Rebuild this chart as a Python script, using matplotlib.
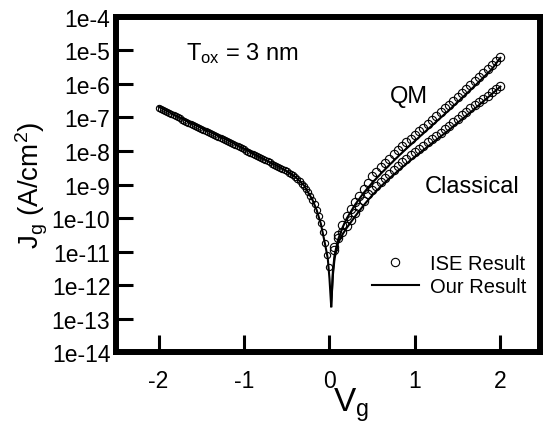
import numpy as np
import matplotlib
matplotlib.use("Agg")
import matplotlib.pyplot as plt
from matplotlib.lines import Line2D
from matplotlib.ticker import FixedLocator, FuncFormatter

plt.rcParams["font.family"] = ["Liberation Sans", "DejaVu Sans"]
plt.rcParams["mathtext.default"] = "regular"
plt.rcParams["axes.unicode_minus"] = False

# --- ISE result (circles), log10(Jg) ---
ise_neg_v = [-2.000, -1.975, -1.950, -1.925, -1.900, -1.875, -1.850, -1.825, -1.800, -1.775,
             -1.750, -1.725, -1.700, -1.675, -1.650, -1.625, -1.600, -1.575, -1.550, -1.525,
             -1.500, -1.475, -1.450, -1.425, -1.400, -1.375, -1.350, -1.325, -1.300, -1.275,
             -1.250, -1.225, -1.200, -1.175, -1.150, -1.125, -1.100, -1.075, -1.050, -1.025,
             -1.000, -0.975, -0.950, -0.925, -0.900, -0.875, -0.850, -0.825, -0.800, -0.775,
             -0.750, -0.725, -0.700, -0.675, -0.650, -0.625, -0.600, -0.575, -0.550, -0.525,
             -0.500, -0.475, -0.450, -0.425, -0.400, -0.375, -0.350, -0.325, -0.300, -0.275,
             -0.250, -0.225, -0.200, -0.175, -0.150, -0.125, -0.100, -0.075, -0.050, -0.030,
             -0.010]
ise_neg_logj = [-6.72, -6.76, -6.79, -6.82, -6.85, -6.88, -6.91, -6.94, -6.97, -7.00,
                -7.03, -7.06, -7.09, -7.12, -7.15, -7.18, -7.21, -7.24, -7.27, -7.30,
                -7.33, -7.36, -7.39, -7.42, -7.45, -7.48, -7.51, -7.54, -7.57, -7.60,
                -7.63, -7.66, -7.69, -7.72, -7.75, -7.79, -7.82, -7.85, -7.88, -7.92,
                -7.95, -7.99, -8.02, -8.05, -8.08, -8.12, -8.15, -8.18, -8.21, -8.25,
                -8.28, -8.31, -8.34, -8.38, -8.41, -8.44, -8.47, -8.51, -8.54, -8.57,
                -8.61, -8.65, -8.69, -8.73, -8.78, -8.84, -8.90, -8.97, -9.04, -9.12,
                -9.22, -9.33, -9.45, -9.59, -9.75, -9.94, -10.15, -10.42, -10.75, -11.1,
                -11.45]

ise_pos_v = [0.05, 0.10, 0.15, 0.20, 0.25, 0.30, 0.35, 0.40, 0.45, 0.50,
             0.55, 0.60, 0.65, 0.70, 0.75, 0.80, 0.85, 0.90, 0.95, 1.00,
             1.05, 1.10, 1.15, 1.20, 1.25, 1.30, 1.35, 1.40, 1.45, 1.50,
             1.55, 1.60, 1.65, 1.70, 1.75, 1.80, 1.85, 1.90, 1.95, 2.00]
ise_qm_logj = [-10.85, -10.5, -10.2, -9.95, -9.72, -9.52, -9.33, -9.14, -8.95, -8.75,
               -8.62, -8.49, -8.36, -8.23, -8.10, -7.97, -7.85, -7.74, -7.63, -7.52,
               -7.41, -7.30, -7.19, -7.07, -6.96, -6.85, -6.73, -6.62, -6.50, -6.38,
               -6.27, -6.15, -6.04, -5.92, -5.80, -5.68, -5.56, -5.44, -5.31, -5.19]
ise_cl_logj = [-10.95, -10.6, -10.42, -10.24, -10.05, -9.86, -9.67, -9.48, -9.29, -9.15,
               -9.03, -8.91, -8.80, -8.68, -8.56, -8.44, -8.33, -8.23, -8.13, -8.04,
               -7.94, -7.84, -7.74, -7.65, -7.55, -7.45, -7.35, -7.25, -7.14, -7.04,
               -6.94, -6.84, -6.73, -6.63, -6.54, -6.44, -6.35, -6.25, -6.16, -6.06]

# --- Our result (solid lines) ---
our_neg_v = [-2.00, -1.80, -1.60, -1.40, -1.20, -1.00, -0.80, -0.60, -0.50, -0.40,
             -0.30, -0.20, -0.15, -0.10, -0.05, -0.02, 0.00, 0.02]
our_neg_logj = [-6.68, -6.94, -7.19, -7.43, -7.67, -7.93, -8.20, -8.46, -8.60, -8.77,
                -9.02, -9.45, -9.76, -10.18, -10.8, -11.2, -11.8, -12.63]

our_pos_v = [0.02, 0.04, 0.06, 0.10, 0.15, 0.20, 0.30, 0.40, 0.50, 0.60, 0.70,
             0.80, 0.90, 1.00, 1.10, 1.20, 1.30, 1.40, 1.50, 1.60, 1.70, 1.80,
             1.90, 2.00]
our_qm_logj = [-12.63, -11.6, -11.1, -10.65, -10.3, -10.02, -9.6, -9.25, -8.95, -8.68,
               -8.42, -8.17, -7.93, -7.70, -7.47, -7.24, -7.01, -6.78, -6.54, -6.30,
               -6.06, -5.81, -5.56, -5.22]
our_cl_logj = [-12.63, -11.7, -11.2, -10.75, -10.5, -10.3, -9.95, -9.62, -9.32, -9.06,
               -8.82, -8.60, -8.38, -8.17, -7.97, -7.77, -7.57, -7.37, -7.16, -6.95,
               -6.74, -6.52, -6.30, -6.08]

decades = list(range(-14, -3))

fig = plt.figure(figsize=(5.44, 4.27), dpi=100)
ax = fig.add_axes([0.213, 0.173, 0.779, 0.785])

circ = dict(linestyle="none", marker="o", mfc="none", mec="black", mew=0.8)
ax.plot(ise_neg_v, 10.0 ** np.array(ise_neg_logj), ms=4.5, **circ)
ax.plot(ise_pos_v, 10.0 ** np.array(ise_qm_logj), ms=6, **circ)
ax.plot(ise_pos_v, 10.0 ** np.array(ise_cl_logj), ms=6, **circ)

ax.plot(our_neg_v, 10.0 ** np.array(our_neg_logj), color="black", lw=1.5)
ax.plot(our_pos_v, 10.0 ** np.array(our_qm_logj), color="black", lw=1.5)
ax.plot(our_pos_v, 10.0 ** np.array(our_cl_logj), color="black", lw=1.5)

ax.set_yscale("log")
ax.set_xlim(-2.5, 2.46)
ax.set_ylim(1e-14, 1e-4)
ax.yaxis.set_major_locator(FixedLocator([10.0 ** d for d in decades]))
ax.yaxis.set_minor_locator(FixedLocator([]))
ax.yaxis.set_major_formatter(FuncFormatter(lambda y, p: f"1e{int(round(np.log10(y)))}"))
ax.set_xticks([-2, -1, 0, 1, 2])

for s in ax.spines.values():
    s.set_linewidth(4.3)
ax.tick_params(direction="in", length=12.5, width=2.2, labelsize=16.5,
               top=False, right=False)
ax.tick_params(axis="x", pad=12)
ax.tick_params(axis="y", pad=4)

ax.set_xlabel("V$_g$", fontsize=24)
ax.xaxis.set_label_coords(0.555, -0.1)
ax.set_ylabel("J$_g$ (A/cm$^2$)", fontsize=20, labelpad=1)

ax.text(0.165, 0.875, "T$_{ox}$ = 3 nm", transform=ax.transAxes, fontsize=17,
        va="baseline")
ax.text(0.646, 0.746, "QM", transform=ax.transAxes, fontsize=17, va="baseline")
ax.text(0.729, 0.478, "Classical", transform=ax.transAxes, fontsize=17, va="baseline")

handles = [Line2D([], [], **{**circ, "ms": 6}),
           Line2D([], [], color="black", lw=1.5)]
ax.legend(handles, ["ISE Result", "Our Result"], loc="center left",
          bbox_to_anchor=(0.604, 0.23), frameon=False, fontsize=14.5,
          borderpad=0, borderaxespad=0, handlelength=2.35, handletextpad=0.55,
          labelspacing=0.2)

fig.savefig("out.png", dpi=100, facecolor="white")
